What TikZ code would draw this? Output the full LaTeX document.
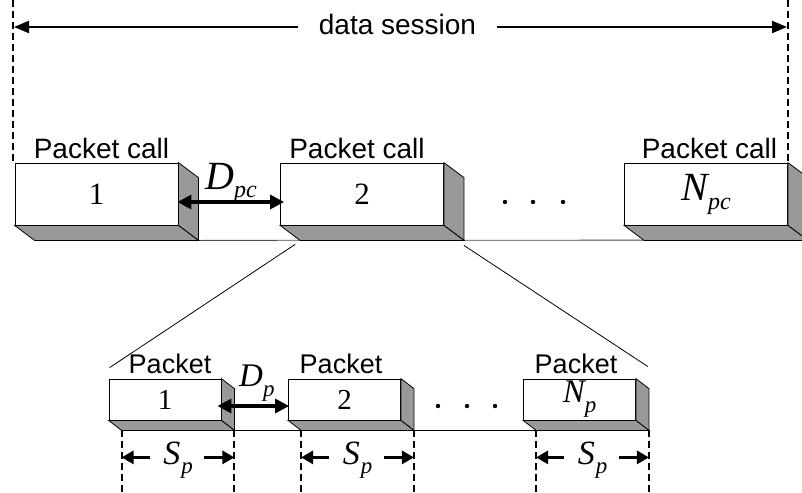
\documentclass[tikz,border=0pt]{standalone}
\usepackage{fontspec}
\setmainfont{Liberation Serif}
\newfontfamily\arialf{Liberation Sans}
\usetikzlibrary{arrows.meta,calc}
\definecolor{facegray}{RGB}{153,153,153}
\newcommand{\boxfaces}[3]{%
  \filldraw[face] (#1.north east) -- ++(#2,#3) -- ([shift={(#2,#3)}]#1.south east) -- (#1.south east) -- cycle;
  \filldraw[face] (#1.south west) -- (#1.south east) -- ++(#2,#3) -- ([shift={(#2,#3)}]#1.south west) -- cycle;
}
\newcommand{\spl}{{\fontsize{34}{34}\selectfont\itshape S}\kern1pt\raisebox{-9pt}{\fontsize{23}{23}\selectfont\itshape p}}
\begin{document}
\begin{tikzpicture}[x=1pt,y=-1pt,
  callbox/.style={draw=black, line width=0.8pt, fill=white, minimum width=163pt, minimum height=62pt, inner sep=0pt, font=\fontsize{31}{31}\selectfont},
  pktbox/.style={draw=black, line width=0.8pt, fill=white, minimum width=112pt, minimum height=41pt, inner sep=0pt, font=\fontsize{29}{29}\selectfont},
  face/.style={fill=facegray, draw=black, line width=0.8pt},
  lbl/.style={font=\arialf\fontsize{28}{28}\selectfont, anchor=base, inner sep=0pt},
  plbl/.style={font=\arialf\fontsize{27}{27}\selectfont, anchor=base, inner sep=0pt},
  mlbl/.style={anchor=base west, inner sep=0pt},
  dashv/.style={line width=2pt, dash pattern=on 7pt off 4pt},
  sess/.style={line width=2pt, -{Triangle[length=15pt,width=12pt]}},
  dimarrow/.style={line width=3.2pt, {Triangle[length=14pt,width=14pt]}-{Triangle[length=14pt,width=14pt]}},
  sparrow/.style={line width=3.2pt, -{Triangle[length=12pt,width=13pt]}},
  thinl/.style={line width=0.8pt},
  dotf/.style={fill=black}
]
\useasboundingbox (0,0) rectangle (802,492);

% ---------- top row ----------
\coordinate (sessL) at (14,27);
\coordinate (sessR) at (787,27);
\coordinate (dTL) at (13,0);
\coordinate (dTLb) at (13,163);
\coordinate (dTR) at (788,0);
\coordinate (dTRb) at (788,163);
\draw[dashv] (dTL) -- (dTLb);
\draw[dashv] (dTR) -- (dTRb);

\node[lbl, inner xsep=21pt] (ds) at (397.5,35) {data session};
\draw[sess] (ds.west |- sessL) -- (sessL);
\draw[sess] (ds.east |- sessR) -- (sessR);

\coordinate (topEnd) at (802,240);
\node[callbox] (c1) at (96.5,194) {1};
\node[callbox] (c2) at (362,194) {2};
\node[callbox] (cN) at (706,194) {{\fontsize{40}{40}\selectfont\itshape N}\raisebox{-9pt}{\fontsize{24}{24}\selectfont\itshape pc}};
\draw[thinl, black!70] ([shift={(20,15)}]c1.south east) -- (topEnd);
\boxfaces{c1}{20}{15}
\boxfaces{c2}{20}{15}
\boxfaces{cN}{20}{15}

\node[lbl] (t1) at (101.5,158) {Packet call};
\node[lbl] (t2) at (357,158) {Packet call};
\node[lbl] (tN) at (709.5,158) {Packet call};

\draw[dimarrow] ([shift={(-1,8)}]c1.east) -- ([shift={(4,8)}]c2.west);
\node[mlbl] (dpc) at (205,189) {{\fontsize{40}{40}\selectfont\itshape D}\raisebox{-8pt}{\fontsize{24}{24}\selectfont\itshape pc}};

\fill[dotf] (505,202) circle (2.2);
\fill[dotf] (533,202) circle (2.2);
\fill[dotf] (563,202) circle (2.2);

% ---------- bottom row ----------
\node[pktbox] (p1) at (165,399.5) {1};
\node[pktbox] (p2) at (344.5,399.5) {2};
\node[pktbox] (pN) at (579.5,399.5) {{\fontsize{33}{33}\selectfont\itshape N}\raisebox{-10pt}{\fontsize{23}{23}\selectfont\itshape p}};

\draw[thinl] ([shift={(15,19)}]c2.south west) -- ([shift={(1,-11)}]p1.north west);
\draw[thinl] ([shift={(20,20)}]c2.south east) -- ([shift={(12,-12)}]pN.north east);

\draw[thinl] ([shift={(13,10)}]p1.south east) -- ([shift={(13,10)}]pN.south west);
\boxfaces{p1}{13}{10}
\boxfaces{p2}{13}{10}
\boxfaces{pN}{13}{10}

\node[plbl] (q1) at (170,373) {Packet};
\node[plbl] (q2) at (341,373) {Packet};
\node[plbl] (qN) at (576,373) {Packet};

\draw[dimarrow] ([shift={(-4,6.5)}]p1.east) -- ([shift={(1,6.5)}]p2.west);
\node[mlbl] (dp) at (239,386) {{\fontsize{33}{33}\selectfont\itshape D}\raisebox{-10pt}{\fontsize{23}{23}\selectfont\itshape p}};

\fill[dotf] (438,406) circle (2.2);
\fill[dotf] (467,406) circle (2.2);
\fill[dotf] (495,406) circle (2.2);

% dimension lines
\coordinate (a1) at ([shift={(13,10)}]p1.south west);
\coordinate (b1) at ([shift={(13,10)}]p1.south east);
\coordinate (a2) at ([shift={(13,10)}]p2.south west);
\coordinate (b2) at ([shift={(13,10)}]p2.south east);
\coordinate (a3) at ([shift={(13,10)}]pN.south west);
\coordinate (b3) at ([shift={(13,10)}]pN.south east);
\foreach \c in {a1,b1,a2,b2,a3,b3}{
  \draw[dashv] (\c) -- (\c |- 0,492);
}
\foreach \a/\b/\n in {a1/b1/sp1,a2/b2/sp2,a3/b3/sp3}{
  \draw[sparrow] ([shift={(28,27)}]\a) -- ([shift={(0,27)}]\a);
  \draw[sparrow] ([shift={(-30,27)}]\b) -- ([shift={(0,27)}]\b);
  \node[anchor=base, inner sep=0pt] (\n) at ($(\a)!0.5!(\b)+(0,34)$) {\spl};
}
\end{tikzpicture}
\end{document}
